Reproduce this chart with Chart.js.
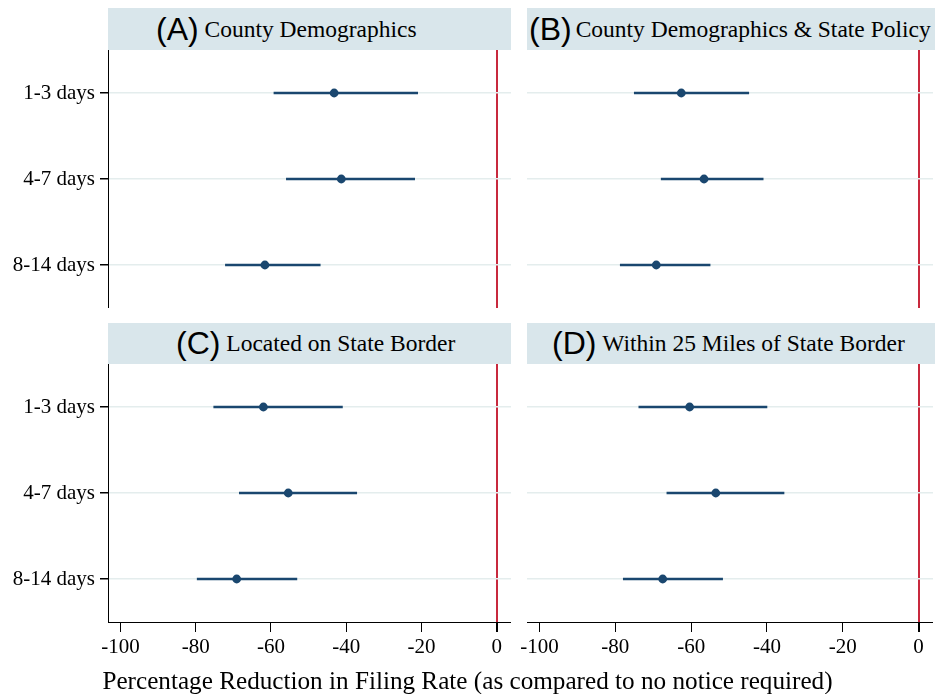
<!DOCTYPE html>
<html>
<head>
<meta charset="utf-8">
<script src="https://cdn.jsdelivr.net/npm/chart.js@4/dist/chart.umd.min.js"></script>
<style>
  html, body { margin: 0; padding: 0; background: #fff; }
  #wrap { position: relative; width: 935px; height: 694px; overflow: hidden; background: #fff; }
  .cv { position: absolute; }
  .tbar { position: absolute; background: #d9e6eb; display: flex; align-items: center; justify-content: flex-start; white-space: nowrap; color: #000; box-sizing: border-box; }
  .lab { font-family: "Liberation Sans", Arial, sans-serif; font-size: 32px; }
  .ser { font-family: "Liberation Serif", "Times New Roman", serif; font-size: 23.5px; }
  #xtitle { position: absolute; left: 0; width: 935px; top: 667px; text-align: center; font-family: "Liberation Serif", "Times New Roman", serif; font-size: 25.2px; color: #000; }
</style>
</head>
<body>
<div id="wrap">
  <div class="tbar" style="left:108px;top:8px;width:403px;height:42px;padding-left:48px;"><span class="lab">(A)</span><span class="ser">&nbsp;County Demographics</span></div>
  <div class="tbar" style="left:527px;top:8px;width:408px;height:42px;padding-left:2px;"><span class="lab">(B)</span><span class="ser" style="margin-left:4px;">County Demographics &amp; State Policy</span></div>
  <div class="tbar" style="left:108px;top:323px;width:403px;height:41px;padding-left:68px;"><span class="lab">(C)</span><span class="ser">&nbsp;Located on State Border</span></div>
  <div class="tbar" style="left:527px;top:323px;width:408px;height:41px;padding-left:25px;"><span class="lab">(D)</span><span class="ser">&nbsp;Within 25 Miles of State Border</span></div>
  <canvas id="cA" class="cv" width="511" height="258" style="left:0px;top:50px;"></canvas>
  <canvas id="cB" class="cv" width="426" height="258" style="left:507px;top:50px;"></canvas>
  <canvas id="cC" class="cv" width="511" height="308" style="left:0px;top:364px;"></canvas>
  <canvas id="cD" class="cv" width="426" height="308" style="left:507px;top:364px;"></canvas>
  <div id="xtitle">Percentage Reduction in Filing Rate (as compared to no notice required)</div>
</div>
<script>
// ---- data ----
const categories = ['1-3 days', '4-7 days', '8-14 days'];
const xTicks = [-100, -80, -60, -40, -20, 0];

const estA = [-43.2, -41.3, -61.6];
const loA  = [-59.2, -55.9, -72.1];
const hiA  = [-21.0, -21.8, -46.9];

const estB = [-62.6, -56.6, -69.2];
const loB  = [-75.0, -67.9, -78.7];
const hiB  = [-44.8, -41.0, -55.0];

const estC = [-62.0, -55.4, -69.1];
const loC  = [-75.2, -68.4, -79.6];
const hiC  = [-41.0, -37.2, -53.1];

const estD = [-60.4, -53.5, -67.5];
const loD  = [-73.8, -66.4, -77.9];
const hiD  = [-40.0, -35.5, -51.7];

// ---- styling ----
const NAVY = '#1a476f';
const RED = '#c8293d';
const GRID = '#e4eded';
const SERIF = '"Liberation Serif", "Times New Roman", serif';

function zeroPad(s) { s.paddingTop = 0; s.paddingBottom = 0; s.paddingLeft = 0; s.paddingRight = 0; }

function makePanel(id, est, lo, hi, showY, showX) {
  const ctx = document.getElementById(id);
  return new Chart(ctx, {
    type: 'bar',
    data: {
      labels: categories,
      datasets: [
        {
          type: 'bar',
          data: lo.map((l, i) => [l, hi[i]]),
          backgroundColor: NAVY,
          borderWidth: 0,
          barThickness: 2,
          order: 2
        },
        {
          type: 'line',
          data: est,
          showLine: false,
          pointRadius: 4.4,
          pointHoverRadius: 4.4,
          pointBackgroundColor: NAVY,
          pointBorderColor: NAVY,
          pointBorderWidth: 0,
          order: 1
        }
      ]
    },
    options: {
      indexAxis: 'y',
      responsive: false,
      animation: false,
      devicePixelRatio: 1,
      layout: { padding: 0, autoPadding: false },
      plugins: { legend: { display: false }, tooltip: { enabled: false }, title: { display: false } },
      scales: {
        x: {
          type: 'linear',
          position: 'bottom',
          min: -103.3,
          max: 3.8,
          afterBuildTicks: s => { s.ticks = xTicks.map(v => ({ value: v })); },
          afterFit: s => { s.height = showX ? 50 : 0; zeroPad(s); },
          border: { display: showX, color: '#000', width: 1 },
          grid: {
            drawOnChartArea: true,
            drawTicks: showX,
            tickLength: 10,
            tickColor: '#000',
            color: c => (c.tick && c.tick.value === 0) ? RED : 'rgba(0,0,0,0)',
            lineWidth: c => (c.tick && c.tick.value === 0) ? 2 : 1
          },
          ticks: {
            display: showX,
            color: '#000',
            padding: 3,
            maxRotation: 0,
            autoSkip: false,
            font: { family: SERIF, size: 21 },
            callback: v => String(v)
          }
        },
        y: {
          type: 'category',
          position: 'left',
          offset: true,
          afterFit: s => { s.width = showY ? 108 : 20; zeroPad(s); },
          border: { display: showY, color: '#000', width: 1 },
          grid: {
            offset: false,
            color: GRID,
            lineWidth: 1.5,
            drawTicks: showY,
            tickLength: 8,
            tickColor: '#000'
          },
          ticks: {
            display: showY,
            color: '#000',
            padding: 5,
            font: { family: SERIF, size: 21 }
          }
        }
      }
    }
  });
}

makePanel('cA', estA, loA, hiA, true, false);
makePanel('cB', estB, loB, hiB, false, false);
makePanel('cC', estC, loC, hiC, true, true);
makePanel('cD', estD, loD, hiD, false, true);
</script>
</body>
</html>
